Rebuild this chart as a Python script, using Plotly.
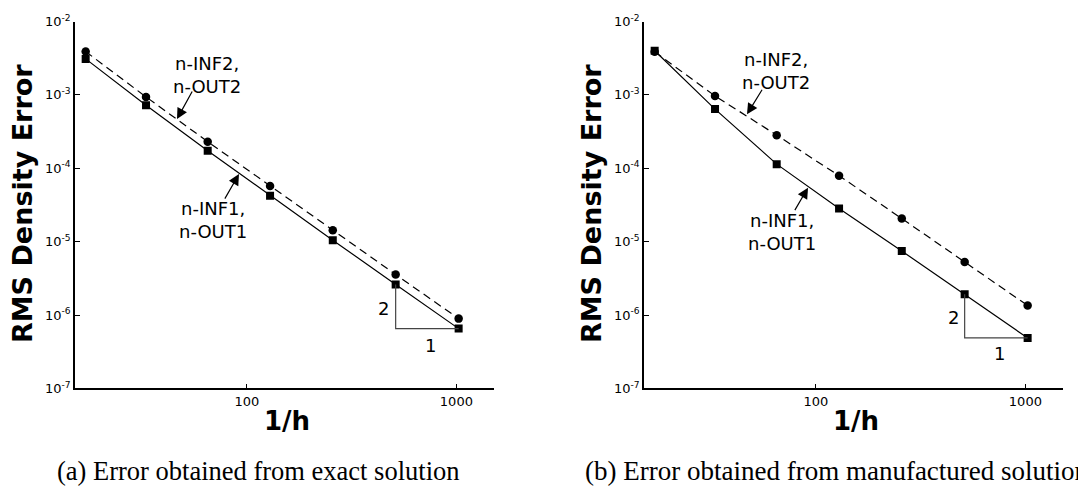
import plotly.graph_objects as go

# ---- data ----
inv_h = [17, 33, 65, 129, 257, 513, 1025]
# (a) exact solution
a_inf2 = [3.9e-3, 9.4e-4, 2.31e-4, 5.74e-5, 1.43e-5, 3.57e-6, 8.95e-7]
a_inf1 = [3.1e-3, 7.24e-4, 1.74e-4, 4.24e-5, 1.05e-5, 2.61e-6, 6.54e-7]
# (b) manufactured solution
b_inf2 = [3.87e-3, 9.7e-4, 2.83e-4, 7.92e-5, 2.07e-5, 5.29e-6, 1.35e-6]
b_inf1 = [4.0e-3, 6.41e-4, 1.14e-4, 2.83e-5, 7.46e-6, 1.93e-6, 4.88e-7]

y_tickvals = [1e-2, 1e-3, 1e-4, 1e-5, 1e-6, 1e-7]
y_ticktext = ["10<sup>-2</sup>", "10<sup>-3</sup>", "10<sup>-4</sup>",
              "10<sup>-5</sup>", "10<sup>-6</sup>", "10<sup>-7</sup>"]
x_tickvals = [100, 1000]
x_ticktext = ["100", "1000"]

W, H = 1078, 494
FONT = "DejaVu Sans"

def px(x):
    return x / W

def py(y):
    return 1 - y / H

fig = go.Figure()

def add_panel(xa, ya, inf2, inf1):
    fig.add_trace(go.Scatter(x=inv_h, y=inf2, mode="lines+markers", xaxis=xa, yaxis=ya,
                             line=dict(color="black", width=1.2, dash="8px,5px"),
                             marker=dict(symbol="circle", size=8.5, color="black"),
                             showlegend=False))
    fig.add_trace(go.Scatter(x=inv_h, y=inf1, mode="lines+markers", xaxis=xa, yaxis=ya,
                             line=dict(color="black", width=1.2),
                             marker=dict(symbol="square", size=8, color="black"),
                             showlegend=False))
    # slope triangle
    fig.add_trace(go.Scatter(x=[inv_h[5], inv_h[5], inv_h[6]],
                             y=[inf1[5], inf1[6], inf1[6]], mode="lines",
                             xaxis=xa, yaxis=ya,
                             line=dict(color="#444444", width=1.2),
                             showlegend=False))

add_panel("x", "y", a_inf2, a_inf1)
add_panel("x2", "y2", b_inf2, b_inf1)

xdom1 = [px(75), px(494)]
xdom2 = [px(644), px(1063)]
ydom = [py(393), py(13)]

common_x = dict(type="log", range=[1.1795, 3.1795], showgrid=False, zeroline=False,
                showline=True, linecolor="black", linewidth=1.5,
                ticks="inside", ticklen=5, tickwidth=1, tickcolor="black",
                tickvals=x_tickvals, ticktext=x_ticktext,
                tickfont=dict(family=FONT, size=13, color="black"))
common_y = dict(type="log", range=[-7, -2], showgrid=False, zeroline=False,
                showline=True, linecolor="black", linewidth=1.5,
                ticks="inside", ticklen=5, tickwidth=1, tickcolor="black",
                tickvals=y_tickvals, ticktext=y_ticktext,
                tickfont=dict(family=FONT, size=13, color="black"))

fig.update_layout(
    width=W, height=H, margin=dict(l=0, r=0, t=0, b=0),
    paper_bgcolor="white", plot_bgcolor="white",
    xaxis=dict(domain=xdom1, anchor="y", **common_x),
    yaxis=dict(domain=ydom, anchor="x", **common_y),
    xaxis2=dict(domain=xdom2, anchor="y2", **common_x),
    yaxis2=dict(domain=ydom, anchor="x2", **common_y),
)

ann = []

def text(x, y, s, size=18, bold=False, angle=0, family=FONT, xanchor="center"):
    ann.append(dict(x=px(x), y=py(y), xref="paper", yref="paper", text=s,
                    showarrow=False, xanchor=xanchor, yanchor="middle", textangle=angle,
                    font=dict(family=family, size=size, color="black",
                              weight="bold" if bold else "normal")))

def arrow(tx, ty, hx, hy):
    ann.append(dict(x=px(hx), y=py(hy), xref="paper", yref="paper", text="",
                    showarrow=True, ax=tx - hx, ay=ty - hy, axref="pixel", ayref="pixel",
                    arrowhead=2, arrowsize=1.8, arrowwidth=1.2, arrowcolor="black"))

# panel (a)
text(207, 68, "n-INF2,<br>n-OUT2")
text(213, 219, "n-INF1,<br>n-OUT1")
arrow(193, 85, 177, 114)
arrow(224, 197, 239, 171)
text(383, 310, "2")
text(430, 348, "1")
text(22, 202, "RMS Density Error", size=27, bold=True, angle=-90)
text(287, 427, "1/h", size=26, bold=True)
text(258, 478, "(a) Error obtained from exact solution", size=26.5, family="Liberation Serif")

# panel (b)
text(776, 64, "n-INF2,<br>n-OUT2")
text(782, 231, "n-INF1,<br>n-OUT1")
arrow(763, 83, 747, 109)
arrow(794, 209, 808, 185)
text(953, 320, "2")
text(999, 357, "1")
text(591, 202, "RMS Density Error", size=27, bold=True, angle=-90)
text(856, 427, "1/h", size=26, bold=True)
text(583, 478, "(b) Error obtained from manufactured solution", size=27,
     family="Liberation Serif", xanchor="left")

fig.update_layout(annotations=ann)
fig.write_html("out.html")
